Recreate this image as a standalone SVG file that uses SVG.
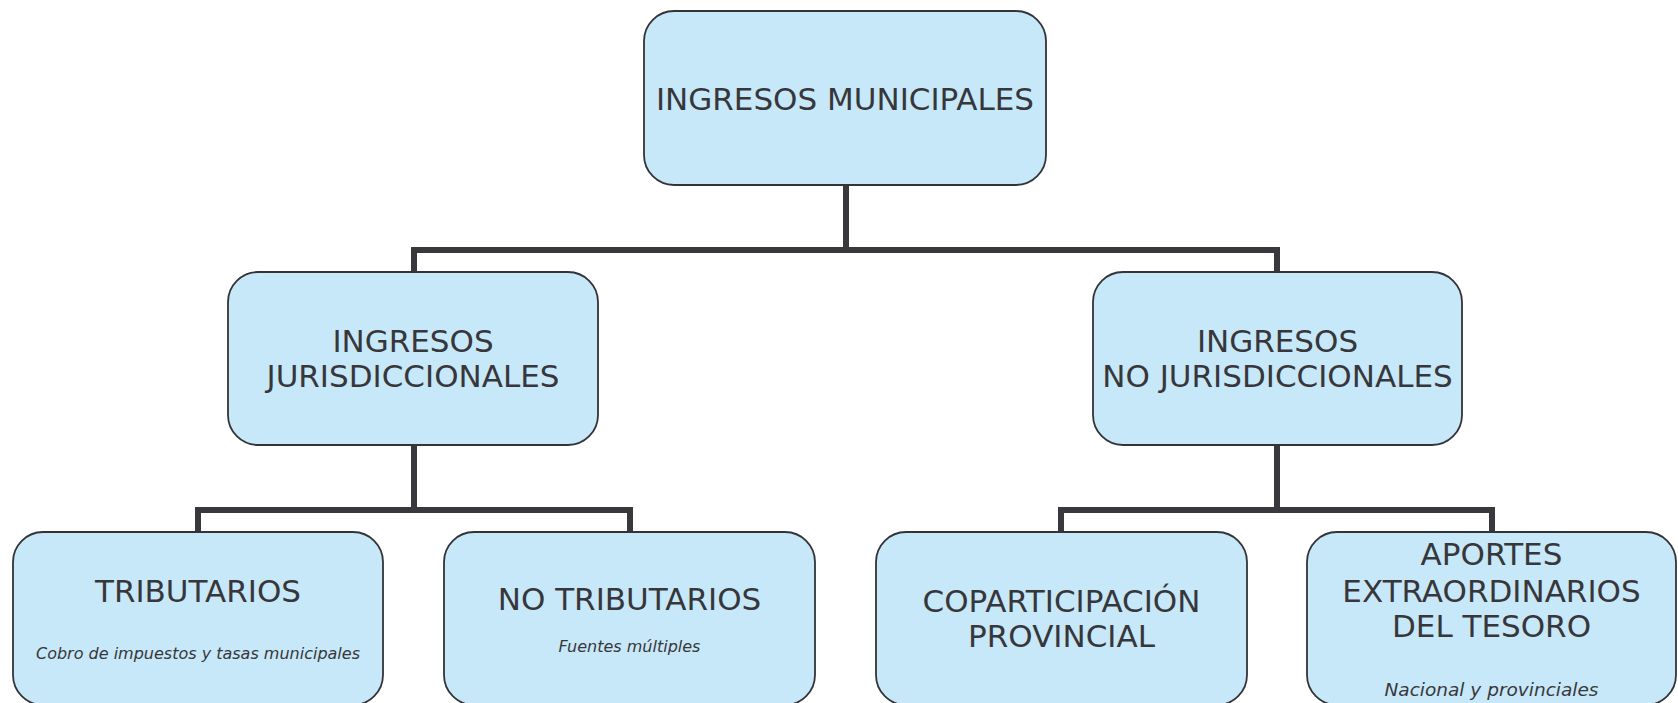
<svg xmlns="http://www.w3.org/2000/svg" width="1678" height="703" viewBox="0 0 1678 703">
<style>
.box{fill:#c7e8f8;stroke:#333338;stroke-width:1.8}
.t{font-family:"DejaVu Sans","Verdana",sans-serif;font-size:31px;fill:#37373b;text-anchor:middle}
.s{font-family:"DejaVu Sans","Verdana",sans-serif;font-size:16px;font-style:italic;fill:#37373b;text-anchor:middle}
.c{fill:none;stroke:#38383d;stroke-width:6;stroke-linejoin:miter;stroke-linecap:square}
</style>
<rect width="1678" height="703" fill="#ffffff"/>
<g id="connectors">
<path class="c" d="M846 185 V250 M414 272 V250 H1277 V272"/>
<path class="c" d="M414 445 V510 M198 532 V510 H630 V532"/>
<path class="c" d="M1277 445 V510 M1061 532 V510 H1492 V532"/>
</g>
<g id="ingresos-municipales">
<rect class="box" x="644" y="11" width="402" height="174" rx="30"/>
<text class="t" x="845" y="110">INGRESOS MUNICIPALES</text>
</g>
<g id="ingresos-jurisdiccionales">
<rect class="box" x="228" y="272" width="370" height="173" rx="30"/>
<text class="t" x="413" y="352">INGRESOS</text>
<text class="t" x="413" y="387">JURISDICCIONALES</text>
</g>
<g id="ingresos-no-jurisdiccionales">
<rect class="box" x="1093" y="272" width="369" height="173" rx="30"/>
<text class="t" x="1277.5" y="352">INGRESOS</text>
<text class="t" x="1277.5" y="387">NO JURISDICCIONALES</text>
</g>
<g id="tributarios">
<rect class="box" x="13" y="532" width="370" height="173" rx="30"/>
<text class="t" x="198" y="602">TRIBUTARIOS</text>
<text class="s" x="198" y="659">Cobro de impuestos y tasas municipales</text>
</g>
<g id="no-tributarios">
<rect class="box" x="444" y="532" width="371" height="173" rx="30"/>
<text class="t" x="629.5" y="610">NO TRIBUTARIOS</text>
<text class="s" x="629.5" y="652">Fuentes múltiples</text>
</g>
<g id="coparticipacion-provincial">
<rect class="box" x="876" y="532" width="371" height="173" rx="30"/>
<text class="t" x="1061.5" y="612">COPARTICIPACIÓN</text>
<text class="t" x="1061.5" y="647">PROVINCIAL</text>
</g>
<g id="aportes-extraordinarios">
<rect class="box" x="1307" y="532" width="369" height="173" rx="30"/>
<text class="t" x="1491.5" y="565">APORTES</text>
<text class="t" x="1491.5" y="602">EXTRAORDINARIOS</text>
<text class="t" x="1491.5" y="637">DEL TESORO</text>
<text class="s" x="1491.5" y="696" style="font-size:18.5px">Nacional y provinciales</text>
</g>
</svg>
